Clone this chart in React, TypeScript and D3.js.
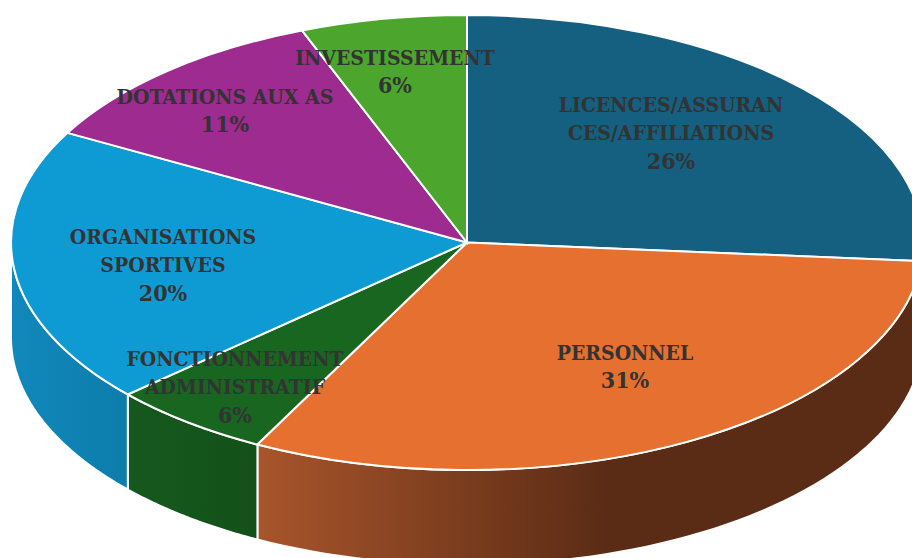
import React from "react";
import * as d3 from "d3";

const width = 912;
const height = 558;

// slices clockwise from 12 o'clock
const categories = [
  "LICENCES/ASSURANCES/AFFILIATIONS",
  "PERSONNEL",
  "FONCTIONNEMENT ADMINISTRATIF",
  "ORGANISATIONS SPORTIVES",
  "DOTATIONS AUX AS",
  "INVESTISSEMENT",
];
const values = [26.3, 31.3, 5.75, 19.65, 11.1, 5.9];
const labelLines = [
  ["LICENCES/ASSURAN", "CES/AFFILIATIONS"],
  ["PERSONNEL"],
  ["FONCTIONNEMENT", "ADMINISTRATIF"],
  ["ORGANISATIONS", "SPORTIVES"],
  ["DOTATIONS AUX AS"],
  ["INVESTISSEMENT"],
];
const topColors = ["#155F80", "#E6702F", "#196620", "#0E9BD4", "#9E2B8F", "#4CA62D"];
const wallFrom = ["#104a64", "#a8552b", "#15591e", "#1188bb", "#7a2070", "#3a7d22"];
const wallTo = ["#104a64", "#5a2b15", "#135119", "#0d7dab", "#7a2070", "#3a7d22"];
const wallGradientEnd = [912, 610, 258, 128, 128, 128];

// where the labels sit, x centre and first baseline
const labelX = [671, 625, 235, 163, 225, 395];
const labelY = [112, 360, 366, 244, 104, 65];

const cx = 467;
const cy = 242.5;
const rx = 456;
const ry = 227.5;
const depth = 95;
const lineGap = 28.3;

const pie = d3.pie<number>().sort(null);
const slices = pie(values);
const unitArc = d3.arc<d3.PieArcDatum<number>>().innerRadius(0).outerRadius(1);

const px = (a: number) => cx + rx * Math.sin(a);
const py = (a: number) => cy - ry * Math.cos(a);

// side wall: only the part of the rim facing the viewer (90deg to 270deg)
function wallPath(start: number, end: number) {
  const a0 = Math.max(start, Math.PI / 2);
  const a1 = Math.min(end, (3 * Math.PI) / 2);
  if (a1 <= a0) return null;
  const angles = d3.range(0, 61).map((i) => a0 + ((a1 - a0) * i) / 60);
  const rim = angles.map((a) => [px(a), py(a)] as [number, number]);
  const lower = angles
    .slice()
    .reverse()
    .map((a) => [px(a), py(a) + depth] as [number, number]);
  return d3.line()([...rim, ...lower]) + "Z";
}

export default function App() {
  return (
    <svg
      width={width}
      height={height}
      style={{ position: "absolute", left: 0, top: 0, background: "#fff" }}
    >
      <defs>
        {slices.map((s, i) => (
          <linearGradient
            key={i}
            id={"wall" + i}
            gradientUnits="userSpaceOnUse"
            x1={i === 3 ? 11 : px(Math.min(s.endAngle, (3 * Math.PI) / 2))}
            x2={wallGradientEnd[i]}
            y1={0}
            y2={0}
          >
            <stop offset="0" stopColor={wallFrom[i]} />
            <stop offset="1" stopColor={wallTo[i]} />
          </linearGradient>
        ))}
      </defs>
      <g>
        {slices.map((s, i) => {
          const d = wallPath(s.startAngle, s.endAngle);
          return d ? (
            <path key={i} d={d} fill={`url(#wall${i})`} stroke="#fff" strokeWidth={2} />
          ) : null;
        })}
      </g>
      <g transform={`translate(${cx},${cy}) scale(${rx},${ry})`}>
        {slices.map((s, i) => (
          <path
            key={categories[i]}
            d={unitArc(s) as string}
            fill={topColors[i]}
            stroke="#fff"
            strokeWidth={2}
            vectorEffect="non-scaling-stroke"
          />
        ))}
      </g>
      <g
        fontFamily="'DejaVu Serif Condensed', 'DejaVu Serif', serif"
        fontWeight="bold"
        fontSize={21}
        fill="#333"
        textAnchor="middle"
      >
        {slices.map((s, i) => (
          <text key={i} x={labelX[i]} y={labelY[i]}>
            {labelLines[i].map((line, j) => (
              <tspan key={j} x={labelX[i]} y={labelY[i] + j * lineGap}>
                {line}
              </tspan>
            ))}
            <tspan
              x={labelX[i]}
              y={labelY[i] + labelLines[i].length * lineGap}
              fontSize={23}
            >
              {Math.round(s.value) + "%"}
            </tspan>
          </text>
        ))}
      </g>
    </svg>
  );
}
